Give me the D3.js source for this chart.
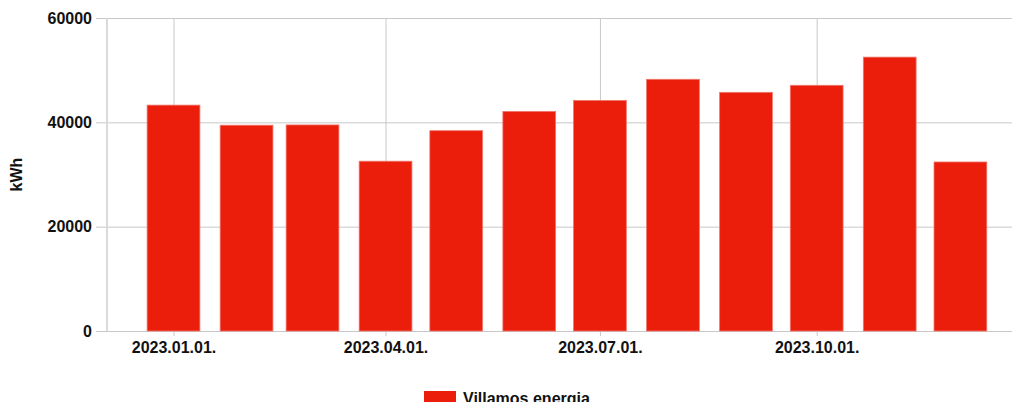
<!DOCTYPE html>
<html lang="hu">
<head>
  <meta charset="UTF-8">
  <title>Villamos energia</title>
  <script src="https://d3js.org/d3.v7.min.js"></script>
  <style>
    body { margin: 0; padding: 0; background: #fff; overflow: hidden; }
    svg text { font-family: "Liberation Sans", Arial, sans-serif; font-weight: bold; fill: #111; }
  </style>
</head>
<body>
  <div id="chart"></div>
  <script>
    const months = ["2023-01-01", "2023-02-01", "2023-03-01", "2023-04-01", "2023-05-01", "2023-06-01",
                    "2023-07-01", "2023-08-01", "2023-09-01", "2023-10-01", "2023-11-01", "2023-12-01"];
    const energy = [43300, 39450, 39500, 32550, 38400, 42100, 44200, 48250, 45750, 47100, 52500, 32400];
    const xTicks = ["2023-01-01", "2023-04-01", "2023-07-01", "2023-10-01"];
    const yTicks = [0, 20000, 40000, 60000];
    const seriesName = "Villamos energia";
    const yLabel = "kWh";

    const W = 1012, H = 402;
    const plot = { left: 107, right: 1012, top: 18, bottom: 331 };

    const parse = d3.utcParse("%Y-%m-%d");
    const fmt = d3.utcFormat("%Y.%m.%d.");
    const day = 864e5;
    const data = months.map((m, i) => ({ date: parse(m), value: energy[i] }));

    // domain padded around the months so Jan 1 sits where the reference puts it
    const x = d3.scaleUtc()
      .domain([new Date(+parse("2023-01-01") - 28.23 * day), new Date(+parse("2023-01-01") + 355.9 * day)])
      .range([plot.left, plot.right]);

    const y = d3.scaleLinear().domain([0, 60000]).range([plot.bottom, plot.top]);

    const svg = d3.select("#chart").append("svg")
      .attr("width", W).attr("height", H);

    // horizontal grid + tick marks
    svg.append("g")
      .attr("transform", `translate(${plot.left},0)`)
      .call(d3.axisLeft(y).tickValues(yTicks).tickSize(11).tickPadding(4).tickFormat(d3.format("d")))
      .call(g => g.select(".domain").remove())
      .call(g => g.selectAll(".tick line").attr("stroke", "#c8c8c8")
        .attr("x2", -11).attr("x1", plot.right - plot.left))
      .call(g => g.selectAll(".tick text").attr("font-size", 16).attr("fill", "#111"));

    // vertical grid + x tick marks
    svg.append("g")
      .attr("transform", `translate(0,${plot.bottom})`)
      .call(d3.axisBottom(x).tickValues(xTicks.map(parse)).tickSize(5).tickPadding(6).tickFormat(fmt))
      .call(g => g.select(".domain").remove())
      .call(g => g.selectAll(".tick line").attr("stroke", "#c8c8c8").attr("y1", plot.top - plot.bottom))
      .call(g => g.selectAll(".tick text").attr("font-size", 16).attr("fill", "#111"));

    // y axis line
    svg.append("line")
      .attr("x1", plot.left).attr("x2", plot.left).attr("y1", plot.top).attr("y2", plot.bottom)
      .attr("stroke", "#dadada").attr("stroke-width", 2);

    const barW = 0.8 * (x(parse("2023-03-01")) - x(parse("2023-02-01")));

    svg.append("g").selectAll("rect")
      .data(data)
      .join("rect")
      .attr("x", d => x(d.date) - barW / 2)
      .attr("width", barW)
      .attr("y", d => y(d.value))
      .attr("height", d => y(0) - y(d.value))
      .attr("fill", "#eb1e0c")
      .attr("stroke", "#f0776c")
      .attr("stroke-width", 0.8);

    svg.append("text")
      .attr("transform", `translate(22,${(plot.top + plot.bottom) / 2}) rotate(-90)`)
      .attr("text-anchor", "middle")
      .attr("font-size", 16)
      .text(yLabel);

    // legend
    const legend = svg.append("g").attr("transform", "translate(424,391)");
    legend.append("rect").attr("width", 32).attr("height", 16).attr("fill", "#eb1e0c");
    legend.append("text").attr("x", 39).attr("y", 13).attr("font-size", 16).text(seriesName);
  </script>
</body>
</html>
